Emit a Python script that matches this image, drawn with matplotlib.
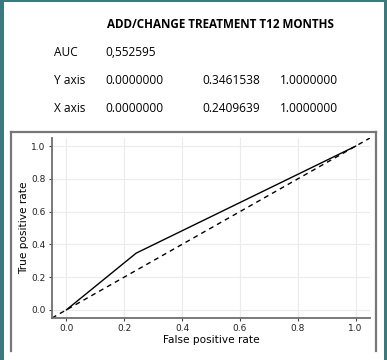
import matplotlib.pyplot as plt
from matplotlib.lines import Line2D
from matplotlib.patches import Rectangle

title = "ADD/CHANGE TREATMENT T12 MONTHS"
auc_label = "0,552595"
fpr = [0.0000000, 0.2409639, 1.0000000]
tpr = [0.0000000, 0.3461538, 1.0000000]
ticks = [0.0, 0.2, 0.4, 0.6, 0.8, 1.0]

W, H = 387, 360
teal = '#3a7a7e'

fig = plt.figure(figsize=(W / 100, H / 100), dpi=100)
fig.patch.set_facecolor(teal)

def fx(px):
    return px / W

def fy(py):
    return 1 - py / H

# white panel inside the teal border
fig.patches.append(Rectangle((fx(4), 0), fx(380), fy(2),
                             transform=fig.transFigure, facecolor='white', edgecolor='none', zorder=-5))

# header table
fig.text(fx(107), fy(24), title, fontsize=8.4, fontweight='bold', family='Open Sans', va='center')
rows = [("AUC", [auc_label]),
        ("Y axis", ["%.7f" % v for v in tpr]),
        ("X axis", ["%.7f" % v for v in fpr])]
cols = [105, 202, 280]
for (name, vals), y in zip(rows, [53, 81, 109]):
    fig.text(fx(54), fy(y), name, fontsize=8.6, family='Open Sans', va='center')
    for v, x in zip(vals, cols):
        fig.text(fx(x), fy(y), v, fontsize=8.6, family='Open Sans', va='center')

# grey frame around the plot
frame = '#777777'
for xs, ys in [([11, 11], [351, 132]), ([11, 376], [132, 132]), ([376, 376], [132, 351])]:
    fig.add_artist(Line2D([fx(x) for x in xs], [fy(y) for y in ys], color=frame, lw=1.6))

ax = fig.add_axes([fx(52), fy(318), fx(370 - 52), fy(138) - fy(318)])
ax.plot(fpr, tpr, color='black', lw=1.0)
ax.axline((0, 0), (1, 1), color='black', lw=1.0, ls=(0, (3.5, 3)))
ax.set_xlim(-0.05, 1.05)
ax.set_ylim(-0.05, 1.05)
ax.set_xticks(ticks)
ax.set_yticks(ticks)
ax.grid(True, color='#ebebeb', lw=0.8)
ax.set_axisbelow(True)
for s in ['top', 'right']:
    ax.spines[s].set_visible(False)
for s in ['left', 'bottom']:
    ax.spines[s].set_color('#6e6e6e')
    ax.spines[s].set_linewidth(1.3)
ax.tick_params(labelsize=6.5, length=2.5, width=0.8, color='#444444', labelcolor='#222222', pad=2)
ax.set_xlabel('False positive rate', fontsize=7.6, labelpad=1)
ax.set_ylabel('True positive rate', fontsize=7.6, labelpad=2)

fig.savefig('out.png', dpi=100, facecolor=fig.get_facecolor())
